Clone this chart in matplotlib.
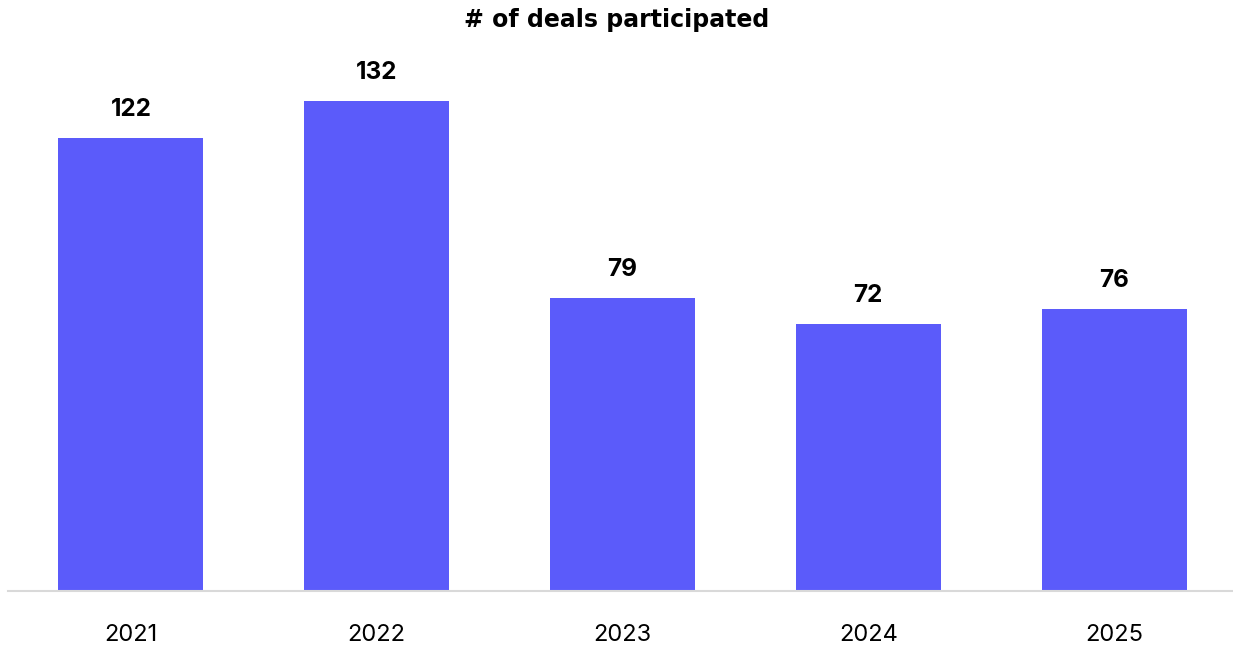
import matplotlib
matplotlib.use('Agg')
import matplotlib.pyplot as plt

plt.rcParams['font.family'] = ['Inter', 'DejaVu Sans']

# Data
years = ['2021', '2022', '2023', '2024', '2025']
deals = [122, 132, 79, 72, 76]

BAR_COLOR = '#5B5BFA'

fig = plt.figure(figsize=(12.33, 6.48), dpi=100)
ax = fig.add_axes([8 / 1233, 57 / 648, 1229 / 1233, 557 / 648])

x = range(len(years))
bars = ax.bar(x, deals, width=0.59, color=BAR_COLOR)

ax.set_xlim(-0.5, len(years) - 0.5)
ax.set_ylim(0, 150)

for b, v in zip(bars, deals):
    ax.annotate(str(v), (b.get_x() + b.get_width() / 2, v),
                xytext=(0, 12), textcoords='offset points',
                ha='center', va='bottom', fontsize=17.5, fontweight='bold',
                color='black')

ax.set_xticks(list(x))
ax.set_xticklabels(years, fontsize=17)
ax.tick_params(axis='x', length=0, pad=24)
ax.set_yticks([])

for s in ['top', 'right', 'left']:
    ax.spines[s].set_visible(False)
ax.spines['bottom'].set_color('#D9D9D9')
ax.spines['bottom'].set_linewidth(1.5)

fig.text(0.5, 1 - 20 / 648, '# of deals participated', ha='center', va='center',
         fontsize=17, fontweight='bold', family='DejaVu Sans')

fig.savefig('out.png', dpi=100)
